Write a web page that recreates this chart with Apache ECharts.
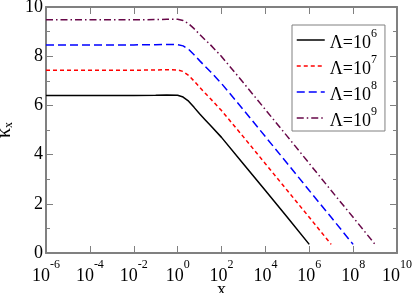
<!DOCTYPE html>
<html>
<head>
<meta charset="utf-8">
<script src="https://cdn.jsdelivr.net/npm/echarts@6/dist/echarts.min.js"></script>
<style>html,body{margin:0;padding:0;background:#fff}#c{width:415px;height:293px}</style>
</head>
<body>
<div id="c"></div>
<script>
// log10(x) positions of the sampled points
const logX = [-6, -4, -2, -1, -0.5, 0, 0.25, 0.5, 0.75, 1, 1.25, 1.5, 2, 3, 4, 5, 6, 7, 8, 9];
const kappaL6 = [6.40, 6.40, 6.40, 6.41, 6.42, 6.41, 6.34, 6.17, 5.92, 5.66, 5.42, 5.18, 4.70, 3.62, 2.54, 1.45, 0.35];
const kappaL7 = [7.43, 7.43, 7.43, 7.44, 7.45, 7.44, 7.38, 7.22, 6.99, 6.74, 6.50, 6.27, 5.79, 4.72, 3.63, 2.54, 1.45, 0.35];
const kappaL8 = [8.46, 8.46, 8.46, 8.47, 8.48, 8.47, 8.42, 8.28, 8.06, 7.82, 7.59, 7.37, 6.89, 5.82, 4.73, 3.64, 2.54, 1.45, 0.35];
const kappaL9 = [9.48, 9.48, 9.48, 9.49, 9.50, 9.50, 9.45, 9.32, 9.12, 8.89, 8.67, 8.46, 7.99, 6.92, 5.83, 4.74, 3.64, 2.54, 1.45, 0.35];
const lambdaExp = ['6', '7', '8', '9'];
const xTickExp = [-6, -4, -2, 0, 2, 4, 6, 8, 10];
const yTicks = [0, 2, 4, 6, 8, 10];

const seriesValues = [kappaL6, kappaL7, kappaL8, kappaL9];
const colors = ['#000000', '#ff0000', '#0000ff', '#670748'];
const dashes = ['solid', [4, 3], [8, 4], [7, 3, 1.5, 3]];
const names = lambdaExp.map(e => 'Λ=10^' + e);

const serif = 'Liberation Serif, Times New Roman, serif';
const axisGray = '#808080';

const chart = echarts.init(document.getElementById('c'), null, {renderer: 'canvas'});

const supRich = {
  b: {fontFamily: serif, fontSize: 18, color: '#000', lineHeight: 26, verticalAlign: 'bottom'},
  s: {fontFamily: serif, fontSize: 12, color: '#000', lineHeight: 12, verticalAlign: 'top'}
};

function baseX(pos, show) {
  return {
    type: 'value', position: pos,
    min: xTickExp[0], max: xTickExp[xTickExp.length - 1], interval: 2,
    axisLine: {show: true, onZero: false, lineStyle: {color: axisGray, width: 2}},
    axisTick: {show: true, inside: true, length: 7, lineStyle: {color: axisGray, width: 1}},
    splitLine: {show: false},
    axisLabel: show ? {
      show: true, margin: 6,
      formatter: v => '{b|10}{s|' + v + '}',
      rich: supRich
    } : {show: false}
  };
}
function baseY(pos, show) {
  return {
    type: 'value', position: pos,
    min: yTicks[0], max: yTicks[yTicks.length - 1], interval: 2,
    axisLine: {show: true, onZero: false, lineStyle: {color: axisGray, width: 2}},
    axisTick: {show: true, inside: true, length: 7, lineStyle: {color: axisGray, width: 1}},
    minorTick: {show: true, splitNumber: 2, length: 4, lineStyle: {color: axisGray, width: 1}},
    splitLine: {show: false},
    axisLabel: show ? {show: true, margin: 3, fontFamily: serif, fontSize: 18, color: '#000'} : {show: false}
  };
}

const xb = baseX('bottom', true);
xb.name = 'x';
xb.nameLocation = 'middle';
xb.nameGap = 28;
xb.nameMoveOverlap = false;
xb.nameTextStyle = {fontFamily: serif, fontSize: 18, color: '#000'};
const xt = baseX('top', false);
const yl = baseY('left', true);
yl.name = '{k|κ}{x|x}';
yl.nameLocation = 'middle';
yl.nameGap = 31;
yl.nameMoveOverlap = false;
yl.nameTextStyle = {
  rich: {
    k: {fontFamily: serif, fontSize: 20, color: '#000', lineHeight: 20, verticalAlign: 'top'},
    x: {fontFamily: serif, fontSize: 12, color: '#000', lineHeight: 12, verticalAlign: 'bottom'}
  }
};
const yr = baseY('right', false);

chart.setOption({
  animation: false,
  grid: {left: 46, right: 18, top: 7, bottom: 40, outerBoundsMode: 'none', containLabel: false},
  xAxis: [xb, xt],
  yAxis: [yl, yr],
  legend: {
    orient: 'vertical', left: 292, top: 25,
    padding: [3, 8, 1, 4], itemGap: 2,
    itemWidth: 28, itemHeight: 14,
    backgroundColor: '#fff', borderColor: axisGray, borderWidth: 1,
    itemStyle: {opacity: 0},
    lineStyle: {width: 1.5},
    data: names,
    formatter: n => '{b|' + n.split('^')[0] + '}{s|' + n.split('^')[1] + '}',
    textStyle: {
      rich: {
        b: {fontFamily: serif, fontSize: 18, color: '#000', lineHeight: 24, verticalAlign: 'bottom'},
        s: {fontFamily: serif, fontSize: 12, color: '#000', lineHeight: 12, verticalAlign: 'top'}
      }
    }
  },
  series: seriesValues.map((vals, i) => ({
    type: 'line', name: names[i],
    xAxisIndex: 0, yAxisIndex: 0,
    data: vals.map((k, j) => [logX[j], k]),
    showSymbol: false, symbol: 'none',
    smooth: false,
    lineStyle: {color: colors[i], width: 1.5, type: dashes[i]},
    itemStyle: {color: colors[i]},
    z: 10 - i
  }))
});
</script>
</body>
</html>
